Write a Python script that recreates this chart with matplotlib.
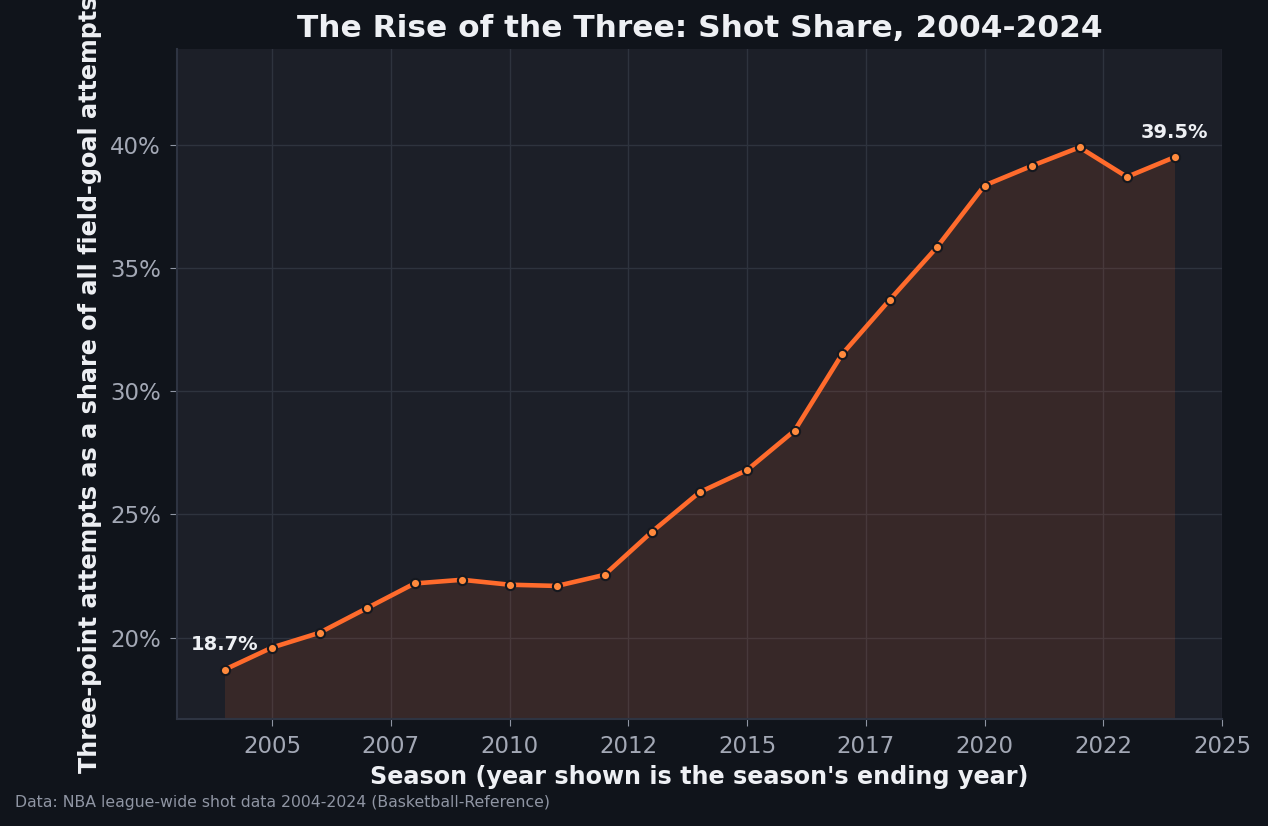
import matplotlib
matplotlib.use("Agg")
import matplotlib.pyplot as plt
import matplotlib.ticker as mticker
import numpy as np

seasons = list(range(2004, 2025))
three_share = [18.7, 19.6, 20.2, 21.2, 22.2, 22.35, 22.15, 22.1, 22.55, 24.3,
               25.9, 26.8, 28.4, 31.5, 33.7, 35.85, 38.35, 39.15, 39.9, 38.7, 39.5]

bg = "#10141b"
panel = "#1c1f28"
orange = "#ff6b2c"

fig = plt.figure(figsize=(12.68, 8.26), dpi=100, facecolor=bg)
ax = fig.add_axes([177 / 1268, 1 - 719 / 826, (1222 - 177) / 1268, (719 - 49) / 826])
ax.set_facecolor(panel)

x = np.array(seasons)
y = np.array(three_share)
ymin = y.min() - 2
ymax = y.max() * 1.1

ax.fill_between(x, y, ymin, color=orange, alpha=0.12, lw=0)
ax.plot(x, y, color=orange, lw=3.3, zorder=3)
ax.scatter(x, y, s=44, color="#ff8a3d", edgecolor="#15181f", linewidth=1.5, zorder=4)

ax.set_xlim(2003, 2025)
ax.set_ylim(ymin, ymax)
ax.xaxis.set_major_formatter(mticker.FuncFormatter(lambda v, p: str(int(v))))
ax.yaxis.set_major_formatter(mticker.FuncFormatter(lambda v, p: f"{v:.0f}%"))

ax.grid(True, color="#2e333e", lw=1)
ax.set_axisbelow(True)
for s in ["top", "right"]:
    ax.spines[s].set_visible(False)
for s in ["left", "bottom"]:
    ax.spines[s].set_color("#2e3442")
    ax.spines[s].set_linewidth(1.5)
ax.tick_params(colors="#8f95a3", labelsize=16.5, length=5, pad=6.5, color="#8f95a3")
for lbl in ax.get_xticklabels() + ax.get_yticklabels():
    lbl.set_color("#a3a8b5")

ax.annotate(f"{y[0]:.1f}%", (x[0], y[0]), xytext=(0, 14), textcoords="offset points",
            ha="center", color="#eef0f4", fontsize=14, fontweight="bold")
ax.annotate(f"{y[-1]:.1f}%", (x[-1], y[-1]), xytext=(0, 14), textcoords="offset points",
            ha="center", color="#eef0f4", fontsize=14, fontweight="bold")

ax.set_title("The Rise of the Three: Shot Share, 2004-2024", color="#eef0f4",
             fontsize=22.5, fontweight="bold", pad=8.5)
ax.set_xlabel("Season (year shown is the season's ending year)", color="#eef0f4",
              fontsize=17.2, fontweight="bold", labelpad=5)
ax.set_ylabel("Three-point attempts as a share of all field-goal attempts", color="#eef0f4",
              fontsize=17.2, fontweight="bold", labelpad=6)

fig.text(15 / 1268, 1 - 803 / 826, "Data: NBA league-wide shot data 2004-2024 (Basketball-Reference)",
         color="#8f95a3", fontsize=11.3, va="center")

fig.savefig("out.png", dpi=100, facecolor=bg)
